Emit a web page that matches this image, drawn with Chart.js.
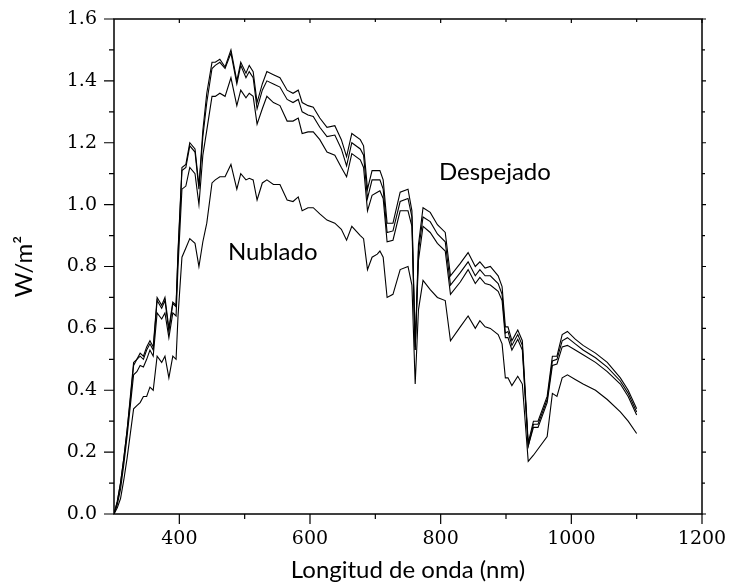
<!DOCTYPE html>
<html>
<head>
<meta charset="utf-8">
<script src="https://cdn.jsdelivr.net/npm/chart.js@4"></script>
<style>
  body { margin: 0; background: #fff; }
  #wrap { width: 731px; height: 585px; }
</style>
</head>
<body>
<div id="wrap"><canvas id="spectrumChart" width="731" height="585"></canvas></div>
<script>
// wavelength (nm)
const wavelengths = [300, 305, 310, 315, 320, 325, 330, 335, 340, 345, 350, 355, 360, 366, 373, 378, 384, 390, 395, 398,
  404, 410, 416, 424, 430, 436, 442, 450, 455, 462, 470, 479, 488, 494, 502, 507, 513, 519, 527, 534,
  544, 554, 565, 574, 582, 588, 597, 605, 615, 626, 638, 648, 656, 664, 677, 682, 688, 695, 703, 707,
  712, 718, 727, 738, 750, 756, 761, 766, 773, 784, 795, 807, 815, 830, 842, 853, 860, 868, 876, 888,
  894, 899, 903, 909, 918, 925, 934, 942, 949, 963, 971, 978, 986, 994, 1006, 1018, 1037, 1055, 1075, 1087, 1100];

// clear sky curves (top three)
const clearA = [0.00, 0.04, 0.10, 0.18, 0.27, 0.38, 0.49, 0.50, 0.52, 0.51, 0.54, 0.56, 0.54, 0.70, 0.675, 0.70, 0.60, 0.685, 0.675, 0.85,
  1.12, 1.13, 1.20, 1.18, 1.06, 1.24, 1.36, 1.46, 1.46, 1.47, 1.445, 1.50, 1.40, 1.46, 1.425, 1.45, 1.43, 1.33, 1.39, 1.43,
  1.42, 1.41, 1.37, 1.36, 1.37, 1.33, 1.32, 1.315, 1.28, 1.25, 1.255, 1.21, 1.155, 1.23, 1.21, 1.19, 1.05, 1.11, 1.11, 1.11,
  1.08, 0.94, 0.94, 1.04, 1.05, 0.98, 0.53, 0.87, 0.99, 0.975, 0.935, 0.91, 0.77, 0.81, 0.845, 0.80, 0.815, 0.795, 0.80, 0.77,
  0.735, 0.605, 0.605, 0.56, 0.595, 0.56, 0.23, 0.30, 0.30, 0.38, 0.51, 0.51, 0.58, 0.59, 0.565, 0.545, 0.52, 0.49, 0.44, 0.40, 0.34];

const clearB = [0.00, 0.04, 0.10, 0.18, 0.27, 0.37, 0.48, 0.50, 0.51, 0.50, 0.53, 0.55, 0.53, 0.69, 0.665, 0.69, 0.59, 0.68, 0.67, 0.84,
  1.11, 1.12, 1.19, 1.17, 1.05, 1.22, 1.33, 1.44, 1.45, 1.46, 1.44, 1.49, 1.39, 1.45, 1.41, 1.43, 1.41, 1.31, 1.37, 1.40,
  1.39, 1.38, 1.34, 1.33, 1.34, 1.30, 1.29, 1.285, 1.25, 1.22, 1.225, 1.18, 1.125, 1.20, 1.18, 1.16, 1.02, 1.08, 1.08, 1.08,
  1.05, 0.91, 0.915, 1.01, 1.02, 0.96, 0.53, 0.85, 0.96, 0.945, 0.905, 0.88, 0.74, 0.78, 0.815, 0.77, 0.79, 0.77, 0.77, 0.745,
  0.71, 0.585, 0.59, 0.545, 0.58, 0.545, 0.22, 0.29, 0.29, 0.37, 0.495, 0.50, 0.56, 0.57, 0.55, 0.53, 0.505, 0.475, 0.43, 0.39, 0.33];

const clearC = [0.00, 0.03, 0.08, 0.16, 0.25, 0.35, 0.45, 0.46, 0.48, 0.475, 0.50, 0.53, 0.51, 0.65, 0.63, 0.65, 0.57, 0.65, 0.64, 0.80,
  1.05, 1.06, 1.12, 1.10, 1.00, 1.16, 1.24, 1.35, 1.35, 1.36, 1.35, 1.41, 1.32, 1.37, 1.345, 1.36, 1.35, 1.26, 1.31, 1.35,
  1.33, 1.32, 1.27, 1.27, 1.28, 1.23, 1.235, 1.235, 1.21, 1.17, 1.16, 1.12, 1.09, 1.165, 1.145, 1.12, 0.98, 1.03, 1.04, 1.045,
  1.02, 0.88, 0.885, 0.98, 0.98, 0.93, 0.54, 0.82, 0.93, 0.91, 0.875, 0.85, 0.71, 0.75, 0.79, 0.745, 0.765, 0.745, 0.74, 0.72,
  0.69, 0.57, 0.57, 0.53, 0.565, 0.53, 0.22, 0.28, 0.28, 0.36, 0.48, 0.485, 0.54, 0.545, 0.53, 0.515, 0.49, 0.46, 0.42, 0.38, 0.32];

// cloudy curve
const cloudy = [0.00, 0.02, 0.05, 0.11, 0.18, 0.26, 0.34, 0.35, 0.36, 0.38, 0.38, 0.41, 0.40, 0.51, 0.49, 0.51, 0.44, 0.51, 0.50, 0.64,
  0.83, 0.86, 0.89, 0.875, 0.80, 0.88, 0.94, 1.07, 1.08, 1.09, 1.09, 1.13, 1.05, 1.10, 1.08, 1.085, 1.08, 1.015, 1.07, 1.08,
  1.065, 1.065, 1.015, 1.01, 1.025, 0.98, 0.99, 0.99, 0.97, 0.95, 0.94, 0.92, 0.885, 0.93, 0.90, 0.89, 0.79, 0.83, 0.84, 0.85,
  0.83, 0.70, 0.71, 0.79, 0.80, 0.74, 0.42, 0.66, 0.755, 0.725, 0.70, 0.69, 0.56, 0.605, 0.64, 0.60, 0.625, 0.605, 0.60, 0.58,
  0.55, 0.44, 0.44, 0.415, 0.445, 0.42, 0.17, 0.19, 0.21, 0.25, 0.39, 0.38, 0.44, 0.45, 0.435, 0.42, 0.40, 0.37, 0.33, 0.30, 0.26];

// axis ticks
const xMajorTicks = [400, 600, 800, 1000, 1200];
const xMinorTicks = [500, 700, 900, 1100];
const yMajorTicks = [0.0, 0.2, 0.4, 0.6, 0.8, 1.0, 1.2, 1.4, 1.6];
const yMinorTicks = [0.1, 0.3, 0.5, 0.7, 0.9, 1.1, 1.3, 1.5];

// text labels inside the plot (nm, W/m2)
const annotations = [
  { text: 'Despejado', x: 883, y: 1.105 },
  { text: 'Nublado', x: 543, y: 0.847 },
];

function toPoints(values) {
  return wavelengths.map((w, i) => ({ x: w, y: values[i] }));
}

// draws box frame, tick marks and the two text labels
const framePlugin = {
  id: 'frame',
  afterDraw(chart) {
    const { ctx, chartArea: a, scales } = chart;
    const xs = scales.x, ys = scales.y;
    ctx.save();
    ctx.strokeStyle = '#000';
    ctx.lineWidth = 1.5;
    ctx.strokeRect(a.left, a.top, a.right - a.left, a.bottom - a.top);

    ctx.lineWidth = 1.2;
    ctx.beginPath();
    xMajorTicks.forEach(v => {
      const px = xs.getPixelForValue(v);
      ctx.moveTo(px, a.bottom); ctx.lineTo(px, a.bottom + 10);
      ctx.moveTo(px, a.top); ctx.lineTo(px, a.top + 4);
    });
    xMinorTicks.forEach(v => {
      const px = xs.getPixelForValue(v);
      ctx.moveTo(px, a.bottom); ctx.lineTo(px, a.bottom + 5);
      ctx.moveTo(px, a.top); ctx.lineTo(px, a.top + 3);
    });
    yMajorTicks.forEach(v => {
      const py = ys.getPixelForValue(v);
      ctx.moveTo(a.left, py); ctx.lineTo(a.left - 10, py);
      ctx.moveTo(a.right, py); ctx.lineTo(a.right + 4, py);
    });
    yMinorTicks.forEach(v => {
      const py = ys.getPixelForValue(v);
      ctx.moveTo(a.left, py); ctx.lineTo(a.left - 5, py);
      ctx.moveTo(a.right, py); ctx.lineTo(a.right + 3, py);
    });
    ctx.stroke();

    ctx.fillStyle = '#000';
    ctx.font = '24px Lato, sans-serif';
    ctx.textAlign = 'center';
    ctx.textBaseline = 'middle';
    annotations.forEach(t => {
      ctx.fillText(t.text, xs.getPixelForValue(t.x), ys.getPixelForValue(t.y));
    });
    ctx.restore();
  }
};

const lineStyle = {
  borderColor: '#000',
  borderWidth: 1.1,
  pointRadius: 0,
  fill: false,
  tension: 0,
};

const ctx = document.getElementById('spectrumChart').getContext('2d');
new Chart(ctx, {
  type: 'line',
  data: {
    datasets: [
      { label: 'A', data: toPoints(clearA), ...lineStyle },
      { label: 'B', data: toPoints(clearB), ...lineStyle },
      { label: 'C', data: toPoints(clearC), ...lineStyle },
      { label: 'Nublado', data: toPoints(cloudy), ...lineStyle },
    ],
  },
  plugins: [framePlugin],
  options: {
    responsive: false,
    animation: false,
    layout: { padding: { top: 19, right: 29, left: 0, bottom: 0 } },
    plugins: {
      legend: { display: false },
      tooltip: { enabled: false },
    },
    scales: {
      x: {
        type: 'linear',
        min: 300,
        max: 1200,
        afterBuildTicks: scale => { scale.ticks = xMajorTicks.map(v => ({ value: v })); },
        afterFit: scale => { scale.height = 71; },
        grid: { display: true, drawOnChartArea: false, tickLength: 10, tickColor: 'transparent' },
        border: { display: false },
        ticks: {
          color: '#000',
          padding: 4,
          maxRotation: 0,
          font: { family: '"DejaVu Serif", serif', size: 19 },
          callback: v => String(v),
        },
        title: {
          display: true,
          text: 'Longitud de onda (nm)',
          color: '#000',
          font: { family: 'Lato, sans-serif', size: 24 },
          padding: { top: 0, bottom: 0 },
        },
      },
      y: {
        min: 0,
        max: 1.6,
        afterBuildTicks: scale => { scale.ticks = yMajorTicks.map(v => ({ value: v })); },
        afterFit: scale => { scale.width = 114; },
        grid: { display: true, drawOnChartArea: false, tickLength: 10, tickColor: 'transparent' },
        border: { display: false },
        ticks: {
          color: '#000',
          padding: 7,
          font: { family: '"DejaVu Serif", serif', size: 19 },
          callback: v => v.toFixed(1),
        },
        title: {
          display: true,
          text: 'W/m²',
          color: '#000',
          font: { family: 'Lato, sans-serif', size: 24 },
          padding: { top: 10, bottom: 0 },
        },
      },
    },
  },
});
</script>
</body>
</html>
